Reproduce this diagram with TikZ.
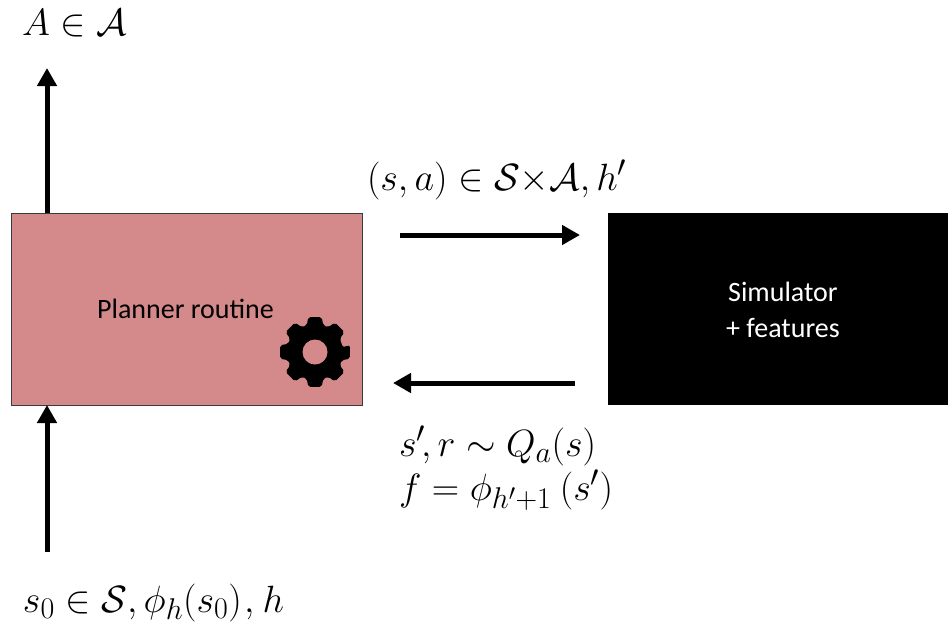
\documentclass[tikz,border=0pt]{standalone}
\usepackage{fontspec}
\usepackage{amsmath,amssymb}
\usepackage{fix-cm}
\setmainfont{Carlito}
\DeclareMathSizes{38}{38}{30}{23}
\usetikzlibrary{arrows.meta,calc}
\definecolor{plannerred}{HTML}{D48A8A}
\definecolor{boxedge}{HTML}{3A3A3A}
\tikzset{
  x=1pt,y=-1pt,
  planbox/.style={draw=boxedge,line width=1pt,fill=plannerred,minimum width=351pt,minimum height=192pt,inner sep=0pt,outer sep=0pt},
  simbox/.style={fill=black,minimum width=340pt,minimum height=192pt,inner sep=0pt,outer sep=0pt},
  flow/.style={line width=5pt,-{Triangle[length=18pt,width=19pt]},black},
  lab/.style={inner sep=0pt,outer sep=0pt,anchor=base west,text=black,font=\fontsize{38}{44}\selectfont},
  boxtext/.style={inner sep=0pt,font=\fontsize{28}{36}\selectfont,align=center}
}
\begin{document}
\begin{tikzpicture}
\useasboundingbox (0,0) rectangle (948,622);
\fill[white] (0,0) rectangle (948,622);
\node[planbox] (planner) at (186.5,309) {};
\node[simbox] (sim) at (778,309) {};
\node[boxtext,text=black] (plannertext) at (185.5,309) {Planner routine};
\node[boxtext,text=white] (simtext) at (783,309.5) {Simulator\\+ features};
% gear
\fill[black,rounded corners=2pt] (315,352) ++(-10:28)
  \foreach \a in {0,45,...,315} {
    -- ($(315,352)+(\a-11:35.5)$) -- ($(315,352)+(\a+11:35.5)$) -- ($(315,352)+(\a+17:28)$) -- ($(315,352)+(\a+28:28)$)
  } -- cycle;
\fill[plannerred] (315,352) circle (12.5);
% connector ends
\coordinate (outtop) at (47,68);
\coordinate (intop) at (47,405);
\coordinate (inbot) at (47,552);
\coordinate (outbot) at (47,213);
\coordinate (reqstart) at (400,235);
\coordinate (reqend) at (580,235);
\coordinate (respstart) at (575,383);
\coordinate (respend) at (393,383);
\draw[flow] (outbot) -- (outtop);
\draw[flow] (inbot) -- (intop);
\draw[flow] (reqstart) -- (reqend);
\draw[flow] (respstart) -- (respend);
% labels
\node[lab] (action) at (22,35) {$A\in\mathcal{A}$};
\node[lab] (query) at (367,190) {$(s,a)\in\mathcal{S}{\times}\mathcal{A},h'$};
\node[lab,anchor=north west,align=left] (reply) at (399,426) {\lineskiplimit=-30pt $s'\mkern-2mu,r\sim Q_a(s)$\\$f=\phi_{h'+1}\mkern4mu(s')$};
\node[lab] (input) at (23,612) {$s_0\in\mathcal{S},\phi_h(s_0)\mkern1mu,\mkern1mu h$};
\end{tikzpicture}
\end{document}
